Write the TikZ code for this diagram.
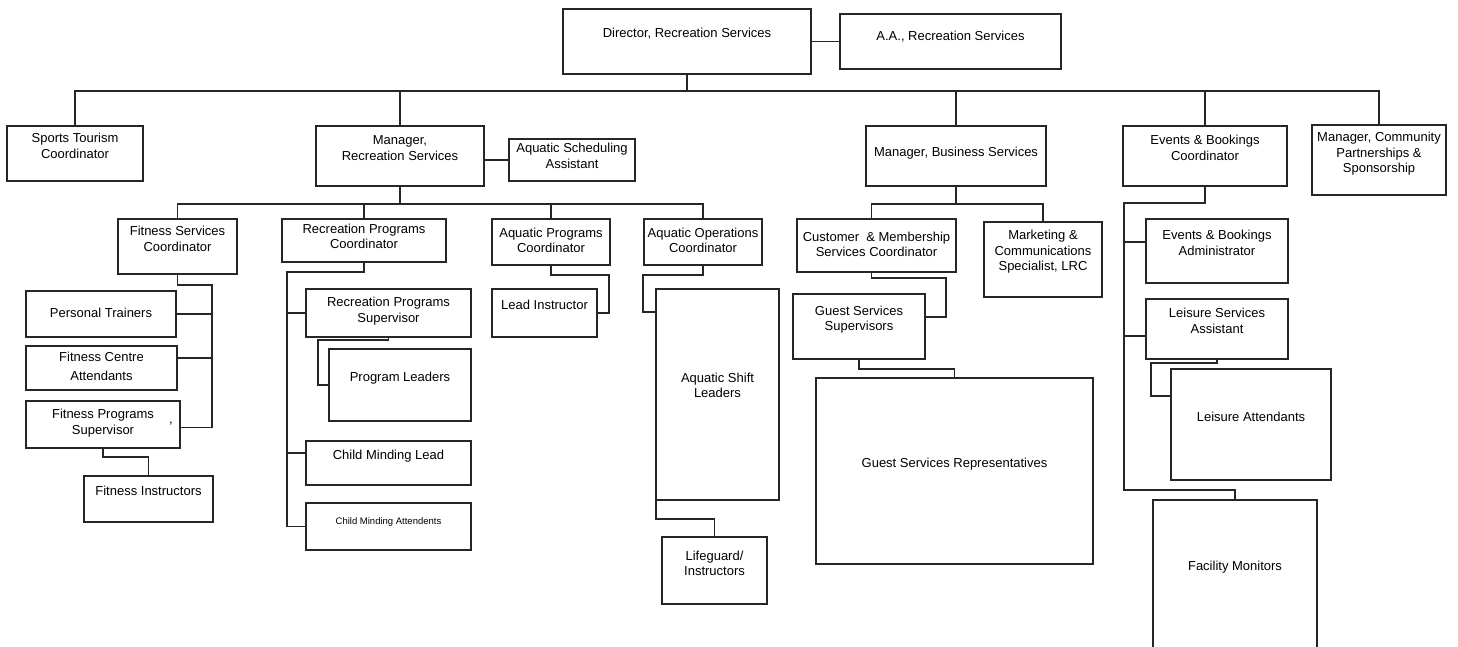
\documentclass[tikz,border=0pt]{standalone}
\usepackage{fontspec}
\setmainfont{Liberation Sans}
\tikzset{
  box/.style={draw=black!85, line width=1.5pt, inner sep=0pt, outer sep=0pt, rectangle},
  lbl/.style={font=\fontsize{13}{15.5}\selectfont, align=center, inner sep=0pt, text=black},
  conn/.style={draw=black!85, line width=1.5pt}
}
\newcommand{\bx}[7]{%
  \node[box, minimum width={#4-#2}, minimum height={#5-#3}] (#1) at ({(#2+#4)/2},{(#3+#5)/2}) {};
  \node[lbl] (#1-t) at ({(#2+#4)/2},#6) {#7};}
\begin{document}
\begin{tikzpicture}[x=1pt,y=-1pt]
\useasboundingbox (0,0) rectangle (1458,646);
\fill[white] (0,0) rectangle (1458,646);
\clip (0,0) rectangle (1458,646);
% top
\bx{dir}{563}{9}{811}{74}{33.5}{Director, Recreation Services}
\bx{aa}{840}{14}{1061}{69}{37}{A.A., Recreation Services}
% level 2
\bx{st}{7}{126}{143}{181}{146}{Sports Tourism\\Coordinator}
\bx{mrs}{316}{126}{484}{186}{148}{Manager,\\Recreation Services}
\bx{asa}{509}{139}{635}{181}{156}{Aquatic Scheduling\\Assistant}
\bx{mbs}{866}{126}{1046}{186}{153}{Manager, Business Services}
\bx{ebc}{1123}{126}{1287}{186}{148}{Events \& Bookings\\Coordinator}
\bx{mcp}{1312}{125}{1446}{195}{154}{Manager, Community\\Partnerships \&\\Sponsorship}
% level 3
\bx{fsc}{118}{219}{237}{274}{239}{Fitness Services\\Coordinator}
\bx{rpc}{282}{219}{446}{262}{236.5}{Recreation Programs\\Coordinator}
\bx{apc}{492}{219}{610}{265}{240.5}{Aquatic Programs\\Coordinator}
\bx{aoc}{644}{219}{762}{265}{240.5}{Aquatic Operations\\Coordinator}
\bx{cms}{797}{219}{956}{272}{244.5}{Customer~ \& Membership\\Services Coordinator}
\bx{mcs}{984}{222}{1102}{297}{252}{Marketing \&\\Communications\\Specialist, LRC}
\bx{eba}{1146}{219}{1288}{283}{243}{Events \& Bookings\\Administrator}
% fitness
\bx{pt}{26}{291}{176}{337}{313}{Personal Trainers}
\bx{fca}{26}{346}{177}{390}{366.5}{Fitness Centre\\[3pt]Attendants}
\bx{fps}{26}{401}{180}{448}{423}{Fitness Programs\\Supervisor}
\node[lbl] (fps-mark) at (171,424) {,};
\bx{fi}{84}{476}{213}{522}{491}{Fitness Instructors}
% recreation
\bx{rps}{306}{289}{471}{337}{311}{Recreation Programs\\Supervisor}
\bx{pl}{329}{349}{471}{421}{378}{Program Leaders}
\bx{cml}{306}{441}{471}{485}{456}{Child Minding Lead}
\bx{cma}{306}{503}{471}{550}{522}{{\fontsize{9.5}{11}\selectfont Child Minding Attendents}}
% aquatic
\bx{li}{492}{289}{597}{337}{305}{Lead Instructor}
\bx{asl}{656}{289}{779}{500}{385.5}{Aquatic Shift\\Leaders}
\bx{lg}{662}{537}{767}{604}{563.5}{Lifeguard/\\Instructors}
% business
\bx{gss}{793}{294}{925}{359}{319.5}{Guest Services\\Supervisors}
\bx{gsr}{816}{378}{1093}{564}{464}{Guest Services Representatives}
% events
\bx{lsa}{1146}{299}{1288}{359}{321}{Leisure Services\\Assistant}
\bx{la}{1171}{369}{1331}{480}{417}{Leisure Attendants}
\bx{fm}{1153}{500}{1317}{660}{567}{Facility Monitors}

% ---- connectors ----
\draw[conn] (aa.west) -- (aa.west -| dir.east);
\path (dir.south) ++(0,17) coordinate (bus);
\draw[conn] (dir.south) -- (bus);
\draw[conn] (st.north) -- (st.north |- bus) -- (mcp.north |- bus) -- (mcp.north);
\draw[conn] (mrs.north) -- (mrs.north |- bus);
\draw[conn] (mbs.north) -- (mbs.north |- bus);
\draw[conn] (ebc.north) -- (ebc.north |- bus);
\draw[conn] (asa.west) -- (asa.west -| mrs.east);

% manager recreation bus
\path (mrs.south) ++(0,18) coordinate (rbus);
\draw[conn] (mrs.south) -- (rbus);
\draw[conn] (fsc.north) -- (fsc.north |- rbus) -- (aoc.north |- rbus) -- (aoc.north);
\draw[conn] (rpc.north) -- (rpc.north |- rbus);
\draw[conn] (apc.north) -- (apc.north |- rbus);

% fitness
\path (fsc.south) ++(0,11) coordinate (f1);
\coordinate (fx) at (212,0);
\coordinate (fpsE) at ([yshift=-3pt]fps.east);
\coordinate (fcaE) at ([yshift=10pt]fca.east);
\draw[conn] (fsc.south) -- (f1) -- (f1 -| fx) -- (fx |- fpsE) -- (fpsE);
\draw[conn] (pt.east) -- (pt.east -| fx);
\draw[conn] (fcaE) -- (fcaE -| fx);
\draw[conn] (fps.south) -- ++(0,9) -| (fi.north);

% recreation
\path (rpc.south) ++(0,10) coordinate (r1);
\coordinate (rx) at (287,0);
\coordinate (cmlW) at ([yshift=10pt]cml.west);
\draw[conn] (rpc.south) -- (r1) -- (r1 -| rx) -- (rx |- cma.west) -- (cma.west);
\draw[conn] (rps.west) -- (rps.west -| rx);
\draw[conn] (cmlW) -- (cmlW -| rx);
\draw[conn] (rps.south) -- ++(0,3) -| ([xshift=-11pt]pl.west) -- (pl.west);

% aquatic
\draw[conn] (apc.south) -- ++(0,10) -| ([xshift=12pt]li.east) -- (li.east);
\draw[conn] (aoc.south) -- ++(0,10) -| ([xshift=-13pt,yshift=-23pt]asl.north west) -- ([yshift=-23pt]asl.north west);
\draw[conn] (asl.south west) -- ++(0,19) -| (lg.north);

% business
\path (mbs.south) ++(0,18) coordinate (bbus);
\draw[conn] (mbs.south) -- (bbus);
\draw[conn] ([xshift=-5pt]cms.north) |- (bbus) -| (mcs.north);
\draw[conn] ([xshift=-5pt]cms.south) -- ++(0,6) -| ([xshift=21pt,yshift=9.5pt]gss.east) -- ([yshift=9.5pt]gss.east);
\draw[conn] (gss.south) -- ++(0,10) -| (gsr.north);

% events
\path (ebc.south) ++(0,17) coordinate (e1);
\path (fm.north) ++(0,-10) coordinate (e2);
\coordinate (ex) at (1124,0);
\coordinate (ebaW) at ([yshift=9pt]eba.west);
\coordinate (lsaW) at ([yshift=-7pt]lsa.west);
\draw[conn] (ebc.south) -- (e1) -- (e1 -| ex) |- (e2) -| (fm.north);
\draw[conn] (ebaW) -- (ebaW -| ex);
\draw[conn] (lsaW) -- (lsaW -| ex);
\draw[conn] (lsa.south) -- ++(0,4) -| ([xshift=-20pt,yshift=-27pt]la.north west) -- ([yshift=-27pt]la.north west);
\end{tikzpicture}
\end{document}
